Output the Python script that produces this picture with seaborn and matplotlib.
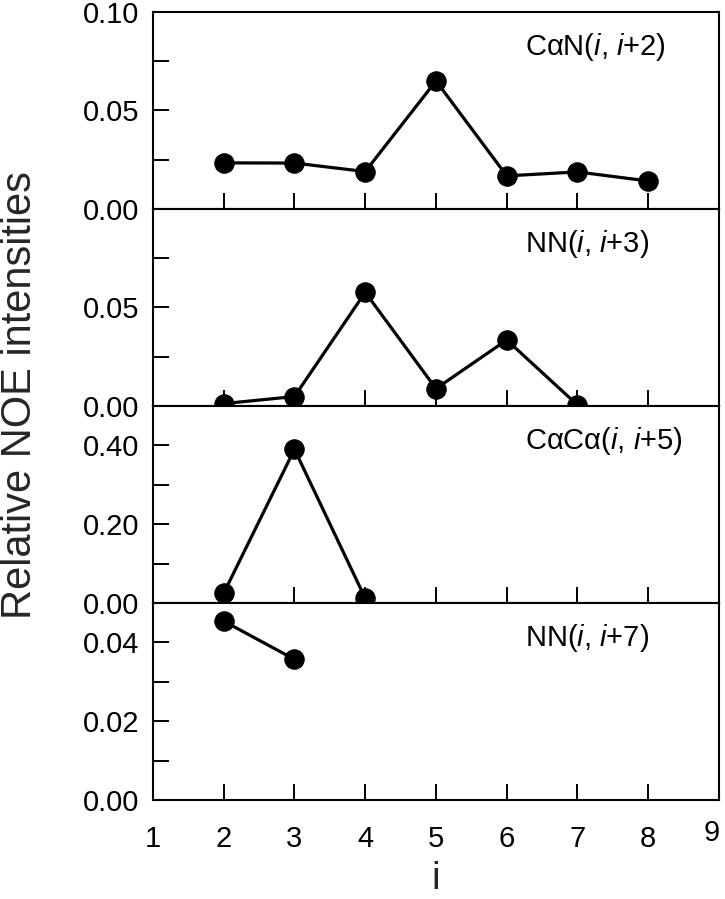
import matplotlib
matplotlib.use("Agg")
import matplotlib.pyplot as plt
import matplotlib.transforms as mtransforms
import seaborn as sns
import pandas as pd
from matplotlib.ticker import FixedLocator, FormatStrFormatter

sns.set_theme(style="white")
plt.rcParams['font.family'] = ['Liberation Sans', 'DejaVu Sans']
plt.rcParams['mathtext.fontset'] = 'custom'
plt.rcParams['mathtext.rm'] = 'Liberation Sans'
plt.rcParams['mathtext.it'] = 'Liberation Sans:italic'

# ---- data ----
x_can2 = [2, 3, 4, 5, 6, 7, 8]
y_can2 = [0.0234, 0.0233, 0.019, 0.065, 0.0168, 0.0188, 0.0142]

x_nn3 = [2, 3, 4, 5, 6, 7]
y_nn3 = [0.0012, 0.0048, 0.0577, 0.0088, 0.0335, 0.0005]

x_caca5 = [2, 3, 4]
y_caca5 = [0.025, 0.39, 0.012]

x_nn7 = [2, 3]
y_nn7 = [0.0454, 0.0357]

labels = ['CαN($\\mathit{i}$, $\\mathit{i{+}2}$)',
          'NN($\\mathit{i}$, $\\mathit{i{+}3}$)',
          'CαCα($\\mathit{i}$, $\\mathit{i{+}5}$)',
          'NN($\\mathit{i}$, $\\mathit{i{+}7}$)']
ylims = [0.10, 0.10, 0.50, 0.05]
major = [[0.0, 0.05, 0.10], [0.0, 0.05], [0.0, 0.2, 0.4], [0.0, 0.02, 0.04]]
minor = [[0.025, 0.075], [0.025, 0.075], [0.1, 0.3], [0.01, 0.03]]
xticks = [1, 2, 3, 4, 5, 6, 7, 8, 9]

series = [(x_can2, y_can2), (x_nn3, y_nn3), (x_caca5, y_caca5), (x_nn7, y_nn7)]

fig, axes = plt.subplots(4, 1, figsize=(7.25, 8.99), dpi=100, sharex=True)
fig.subplots_adjust(left=0.211, right=0.9917, top=0.9867, bottom=0.1101, hspace=0)

for k, ax in enumerate(axes):
    xs, ys = series[k]
    df = pd.DataFrame({'i': xs, 'v': ys})
    sns.lineplot(data=df, x='i', y='v', ax=ax, color='black', linewidth=2.3,
                 marker='o', markersize=14, markeredgecolor='black',
                 markerfacecolor='black')
    ax.set_xlim(1, 9)
    ax.set_ylim(0, ylims[k])
    ax.yaxis.set_major_locator(FixedLocator(major[k]))
    ax.yaxis.set_minor_locator(FixedLocator(minor[k]))
    ax.yaxis.set_major_formatter(FormatStrFormatter('%.2f'))
    ax.set_xticks(xticks)
    ax.set_xlabel('')
    ax.set_ylabel('')
    for sp in ax.spines.values():
        sp.set_linewidth(1.5)
        sp.set_color('black')
    ax.tick_params(axis='y', which='both', direction='in', length=11.5, width=1.4,
                   left=True, right=False, labelsize=21, pad=10, colors='black')
    ax.tick_params(axis='x', which='both', direction='in', length=11.5, width=1.4,
                   bottom=True, top=False, labelsize=21, pad=18, colors='black')
    ax.text(0.657, 0.82, labels[k], transform=ax.transAxes, ha='left', va='center',
            fontsize=21, color='black')

axes[-1].set_xlabel('i', fontsize=28, labelpad=6)
fig.text(0.027, 0.56, 'Relative NOE intensities', rotation=90, ha='center',
         va='center', fontsize=30)

# nudge the last x tick label ("9") inside the figure, as in the reference
last = axes[-1].get_xticklabels()[-1]
last.set_transform(last.get_transform() +
                   mtransforms.ScaledTranslation(-0.07, 0.06, fig.dpi_scale_trans))

fig.savefig('out.png', dpi=100)
